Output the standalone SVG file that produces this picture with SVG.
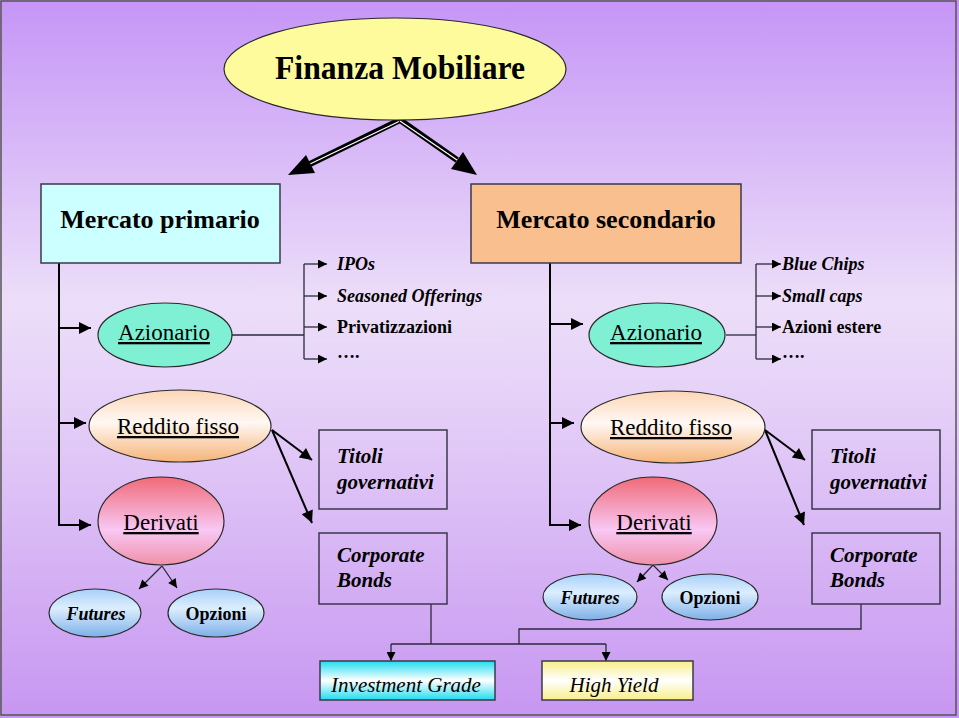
<svg xmlns="http://www.w3.org/2000/svg" width="959" height="718" viewBox="0 0 959 718">
<defs>
  <linearGradient id="bg" x1="0" y1="0" x2="0" y2="1">
    <stop offset="0" stop-color="#c595f6"/>
    <stop offset="0.42" stop-color="#ecdef9"/>
    <stop offset="0.55" stop-color="#e6d2f8"/>
    <stop offset="1" stop-color="#c796f1"/>
  </linearGradient>
  <linearGradient id="gRed" x1="0" y1="0" x2="0" y2="1">
    <stop offset="0" stop-color="#f06a78"/>
    <stop offset="0.6" stop-color="#f8c8f4"/>
    <stop offset="1" stop-color="#f090a8"/>
  </linearGradient>
  <linearGradient id="gOrange" x1="0" y1="0" x2="0" y2="1">
    <stop offset="0" stop-color="#fcd6b6"/>
    <stop offset="0.45" stop-color="#fff8f4"/>
    <stop offset="1" stop-color="#f6b478"/>
  </linearGradient>
  <linearGradient id="gBlue" x1="0" y1="0" x2="0" y2="1">
    <stop offset="0" stop-color="#a8d0f8"/>
    <stop offset="0.4" stop-color="#dceefe"/>
    <stop offset="1" stop-color="#7eb0e8"/>
  </linearGradient>
  <linearGradient id="gCyan" x1="0" y1="0" x2="0" y2="1">
    <stop offset="0" stop-color="#20dcf0"/>
    <stop offset="0.5" stop-color="#ffffff"/>
    <stop offset="1" stop-color="#20dcf0"/>
  </linearGradient>
  <linearGradient id="gYellow" x1="0" y1="0" x2="0" y2="1">
    <stop offset="0" stop-color="#f8ee88"/>
    <stop offset="0.5" stop-color="#ffffff"/>
    <stop offset="1" stop-color="#f8ee88"/>
  </linearGradient>
  <marker id="ah" viewBox="0 0 10 10" refX="10" refY="5" markerUnits="userSpaceOnUse" markerWidth="14" markerHeight="12" orient="auto">
    <path d="M0,0 L10,5 L0,10 z" fill="#000"/>
  </marker>
  <marker id="sm" viewBox="0 0 10 10" refX="10" refY="5" markerUnits="userSpaceOnUse" markerWidth="11" markerHeight="9" orient="auto">
    <path d="M0,0 L10,5 L0,10 z" fill="#000"/>
  </marker>
  <style>
    text { font-family: "Times New Roman", "Liberation Serif", Tinos, "Noto Serif", "DejaVu Serif", serif; fill: #000; }
    .b { font-weight: bold; }
    .i { font-style: italic; }
    .u { text-decoration: underline; }
    .c { text-anchor: middle; }
    .box { stroke: #3a3a4a; stroke-width: 1.5; }
    .el { stroke: #2a2a2a; stroke-width: 1.2; }
    .ln { fill: none; stroke: #000; stroke-width: 2; }
    .thin { fill: none; stroke: #2a2a3a; stroke-width: 1.3; }
  </style>
</defs>

<rect x="0" y="0" width="959" height="718" fill="url(#bg)"/>
<rect x="1" y="1" width="955" height="714" fill="none" stroke="#555" stroke-width="1.5"/>

<g id="connectors">
  <line x1="400" y1="120" x2="310" y2="164" stroke="#000" stroke-width="6"/>
  <line x1="400" y1="121" x2="310" y2="164" stroke="#fff" stroke-width="1.2"/>
  <polygon points="288,175 306,155 315,173" fill="#000"/>
  <line x1="400" y1="120" x2="457" y2="160" stroke="#000" stroke-width="6"/>
  <line x1="400" y1="121" x2="457" y2="160" stroke="#fff" stroke-width="1.2"/>
  <polygon points="477,175 451,169 463,152" fill="#000"/>

  <line class="ln" x1="59" y1="263" x2="59" y2="525"/>
  <line class="ln" x1="58" y1="328" x2="91" y2="328" marker-end="url(#ah)"/>
  <line class="ln" x1="58" y1="423" x2="86" y2="423" marker-end="url(#ah)"/>
  <line class="ln" x1="58" y1="525" x2="91" y2="525" marker-end="url(#ah)"/>

  <line class="thin" x1="232" y1="335" x2="304" y2="335"/>
  <line class="thin" x1="304" y1="264" x2="304" y2="359"/>
  <line class="thin" x1="304" y1="264" x2="327" y2="264" marker-end="url(#sm)"/>
  <line class="thin" x1="304" y1="296" x2="327" y2="296" marker-end="url(#sm)"/>
  <line class="thin" x1="304" y1="327" x2="327" y2="327" marker-end="url(#sm)"/>
  <line class="thin" x1="304" y1="359" x2="327" y2="359" marker-end="url(#sm)"/>

  <line class="ln" x1="550" y1="263" x2="550" y2="526"/>
  <line class="ln" x1="549" y1="324" x2="583" y2="324" marker-end="url(#ah)"/>
  <line class="ln" x1="549" y1="423" x2="574" y2="423" marker-end="url(#ah)"/>
  <line class="ln" x1="549" y1="525" x2="581" y2="525" marker-end="url(#ah)"/>

  <line class="thin" x1="726" y1="335" x2="756" y2="335"/>
  <line class="thin" x1="756" y1="264" x2="756" y2="359"/>
  <line class="thin" x1="756" y1="264" x2="781" y2="264" marker-end="url(#sm)"/>
  <line class="thin" x1="756" y1="296" x2="781" y2="296" marker-end="url(#sm)"/>
  <line class="thin" x1="756" y1="327" x2="781" y2="327" marker-end="url(#sm)"/>
  <line class="thin" x1="756" y1="359" x2="781" y2="359" marker-end="url(#sm)"/>

  <line class="ln" x1="272" y1="430" x2="312" y2="460" marker-end="url(#ah)"/>
  <line class="ln" x1="272" y1="430" x2="312" y2="523" marker-end="url(#ah)"/>
  <line class="ln" x1="765" y1="430" x2="805" y2="460" marker-end="url(#ah)"/>
  <line class="ln" x1="765" y1="430" x2="804" y2="525" marker-end="url(#ah)"/>

  <line class="thin" x1="162" y1="566" x2="139" y2="589" marker-end="url(#sm)"/>
  <line class="thin" x1="162" y1="566" x2="177" y2="588" marker-end="url(#sm)"/>
  <line class="thin" x1="653" y1="565" x2="637" y2="582" marker-end="url(#sm)"/>
  <line class="thin" x1="653" y1="565" x2="668" y2="580" marker-end="url(#sm)"/>

  <line class="thin" x1="431" y1="604" x2="431" y2="644"/>
  <line class="thin" x1="391" y1="644" x2="606" y2="644"/>
  <line class="thin" x1="391" y1="644" x2="391" y2="661" marker-end="url(#sm)"/>
  <line class="thin" x1="606" y1="644" x2="606" y2="661" marker-end="url(#sm)"/>
  <polyline class="thin" points="861,604 861,629 519,629 519,644"/>
</g>

<g id="finanza-mobiliare">
  <ellipse class="el" cx="395" cy="69" rx="171" ry="51" fill="#fdfb9c"/>
  <text class="b c" x="400" y="79" font-size="33" textLength="250" lengthAdjust="spacingAndGlyphs">Finanza Mobiliare</text>
</g>

<g id="mercato-primario">
  <rect class="box" x="41" y="184" width="239" height="79" fill="#ccffff"/>
  <text class="b c" x="160" y="228" font-size="26">Mercato primario</text>
</g>

<g id="mercato-secondario">
  <rect class="box" x="471" y="184" width="270" height="79" fill="#f9bf8f"/>
  <text class="b c" x="606" y="228" font-size="26">Mercato secondario</text>
</g>

<g id="azionario-primario">
  <ellipse class="el" cx="165" cy="335" rx="67" ry="32" fill="#7ff0d4"/>
  <text class="u c" x="164" y="340" font-size="23">Azionario</text>
</g>

<g id="lista-primario">
  <text class="b i" x="337" y="270" font-size="18">IPOs</text>
  <text class="b i" x="337" y="302" font-size="18">Seasoned Offerings</text>
  <text class="b" x="337" y="333" font-size="18">Privatizzazioni</text>
  <text class="b" x="337" y="358" font-size="18">….</text>
</g>

<g id="azionario-secondario">
  <ellipse class="el" cx="657" cy="335" rx="68" ry="32" fill="#7ff0d4"/>
  <text class="u c" x="656" y="340" font-size="23">Azionario</text>
</g>

<g id="lista-secondario">
  <text class="b i" x="782" y="270" font-size="18">Blue Chips</text>
  <text class="b i" x="782" y="302" font-size="18">Small caps</text>
  <text class="b" x="782" y="333" font-size="18">Azioni estere</text>
  <text class="b" x="782" y="358" font-size="18">….</text>
</g>

<g id="reddito-fisso-primario">
  <ellipse class="el" cx="180" cy="426" rx="91" ry="36" fill="url(#gOrange)"/>
  <text class="u c" x="178" y="434" font-size="23">Reddito fisso</text>
</g>

<g id="reddito-fisso-secondario">
  <ellipse class="el" cx="673" cy="427" rx="92" ry="36" fill="url(#gOrange)"/>
  <text class="u c" x="671" y="435" font-size="23">Reddito fisso</text>
</g>

<g id="derivati-primario">
  <ellipse class="el" cx="161" cy="521" rx="63" ry="44" fill="url(#gRed)"/>
  <text class="u c" x="161" y="530" font-size="23">Derivati</text>
</g>

<g id="derivati-secondario">
  <ellipse class="el" cx="653" cy="521" rx="64" ry="44" fill="url(#gRed)"/>
  <text class="u c" x="654" y="530" font-size="23">Derivati</text>
</g>

<g id="futures-primario">
  <ellipse class="el" cx="95" cy="613" rx="46" ry="24" fill="url(#gBlue)"/>
  <text class="b i c" x="96" y="620" font-size="18">Futures</text>
</g>

<g id="opzioni-primario">
  <ellipse class="el" cx="216" cy="613" rx="48" ry="24" fill="url(#gBlue)"/>
  <text class="b c" x="216" y="620" font-size="18">Opzioni</text>
</g>

<g id="futures-secondario">
  <ellipse class="el" cx="590" cy="597" rx="47" ry="23" fill="url(#gBlue)"/>
  <text class="b i c" x="590" y="604" font-size="18">Futures</text>
</g>

<g id="opzioni-secondario">
  <ellipse class="el" cx="710" cy="597" rx="48" ry="23" fill="url(#gBlue)"/>
  <text class="b c" x="710" y="604" font-size="18">Opzioni</text>
</g>

<g id="titoli-governativi-primario">
  <rect class="box" x="319" y="430" width="128" height="79" fill="none"/>
  <text class="b i" x="337" y="463" font-size="21">Titoli</text>
  <text class="b i" x="337" y="489" font-size="21">governativi</text>
</g>

<g id="corporate-bonds-primario">
  <rect class="box" x="319" y="533" width="128" height="71" fill="none"/>
  <text class="b i" x="337" y="562" font-size="21">Corporate</text>
  <text class="b i" x="337" y="587" font-size="21">Bonds</text>
</g>

<g id="titoli-governativi-secondario">
  <rect class="box" x="812" y="430" width="128" height="79" fill="none"/>
  <text class="b i" x="830" y="463" font-size="21">Titoli</text>
  <text class="b i" x="830" y="489" font-size="21">governativi</text>
</g>

<g id="corporate-bonds-secondario">
  <rect class="box" x="812" y="533" width="128" height="71" fill="none"/>
  <text class="b i" x="830" y="562" font-size="21">Corporate</text>
  <text class="b i" x="830" y="587" font-size="21">Bonds</text>
</g>

<g id="investment-grade">
  <rect class="box" x="320" y="661" width="175" height="39" fill="url(#gCyan)"/>
  <text class="i c" x="406" y="692" font-size="21">Investment Grade</text>
</g>

<g id="high-yield">
  <rect class="box" x="542" y="661" width="151" height="39" fill="url(#gYellow)"/>
  <text class="i c" x="614" y="692" font-size="21">High Yield</text>
</g>
</svg>
